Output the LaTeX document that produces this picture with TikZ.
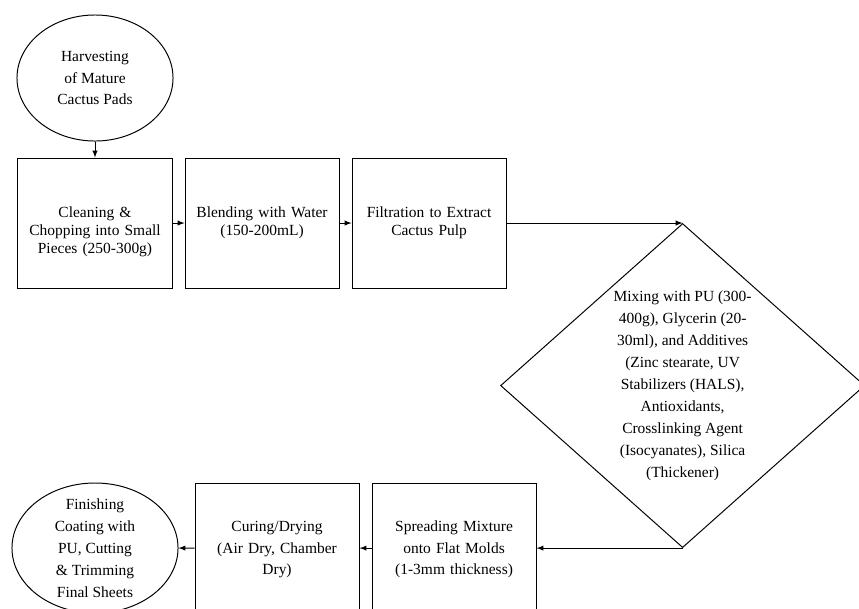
\documentclass[tikz,border=0pt]{standalone}
\usepackage{fontspec}
\setmainfont{Liberation Serif}
\usetikzlibrary{shapes.geometric, arrows, positioning}

\begin{document}
\begin{tikzpicture}[
    x=0.025cm, y=-0.025cm,
    node distance=0.3cm,
    line width=0.7pt,
    oval/.style={ellipse, draw, inner sep=0pt, align=center, font=\fontsize{11}{15.6}\selectfont},
    process/.style={rectangle, draw, inner xsep=2pt, inner ysep=0pt, minimum width=3.85cm, text width=3.6cm, align=center, font=\fontsize{11}{12.8}\selectfont, text height=1.475cm, text depth=1.775cm},
    lowprocess/.style={process, minimum width=4.1cm, text width=3.85cm, font=\fontsize{11}{15.6}\selectfont, text height=1.2cm, text depth=2.05cm},
    decision/.style={diamond, draw, inner sep=-6pt, minimum width=9.1cm, minimum height=8.1cm, align=center, font=\fontsize{11}{15.6}\selectfont}
]
\clip (0,0) rectangle (859,608);

\node[oval, minimum width=3.9cm, minimum height=3.15cm] (harvest) at (95,78) {Harvesting\\of Mature\\Cactus Pads};
\node[process, below=0.4cm of harvest] (chop) {Cleaning \&\\Chopping into Small\\Pieces (250-300g)};
\node[process, right=of chop] (blend) {Blending with Water\\(150-200mL)};
\node[process, right=of blend] (filter) {Filtration to Extract\\Cactus Pulp};
\node[decision, right=4.4cm of filter.east, anchor=north] (mix) {Mixing with PU (300-\\400g), Glycerin (20-\\30ml), and Additives\\(Zinc stearate, UV\\Stabilizers (HALS),\\Antioxidants,\\Crosslinking Agent\\(Isocyanates), Silica\\(Thickener)};
\node[lowprocess, left=3.65cm of mix.south] (spread) {Spreading Mixture\\onto Flat Molds\\(1-3mm thickness)};
\node[lowprocess, left=of spread] (cure) {Curing/Drying\\(Air Dry, Chamber\\Dry)};
\node[oval, inner ysep=-20pt, minimum width=4.15cm, minimum height=3.25cm] (finish) at (95,548) {Finishing\\Coating with\\PU, Cutting\\\& Trimming\\Final Sheets};

% flow
\draw[-latex] (harvest) -- (chop);
\draw[-latex] (chop) -- (blend);
\draw[-latex] (blend) -- (filter);
\draw[-latex] (filter.east) -- (mix.north);
\draw[-latex] (mix.south) -- (spread.east);
\draw[-latex] (spread) -- (cure);
\draw[-latex] (cure) -- (finish);

\end{tikzpicture}
\end{document}
